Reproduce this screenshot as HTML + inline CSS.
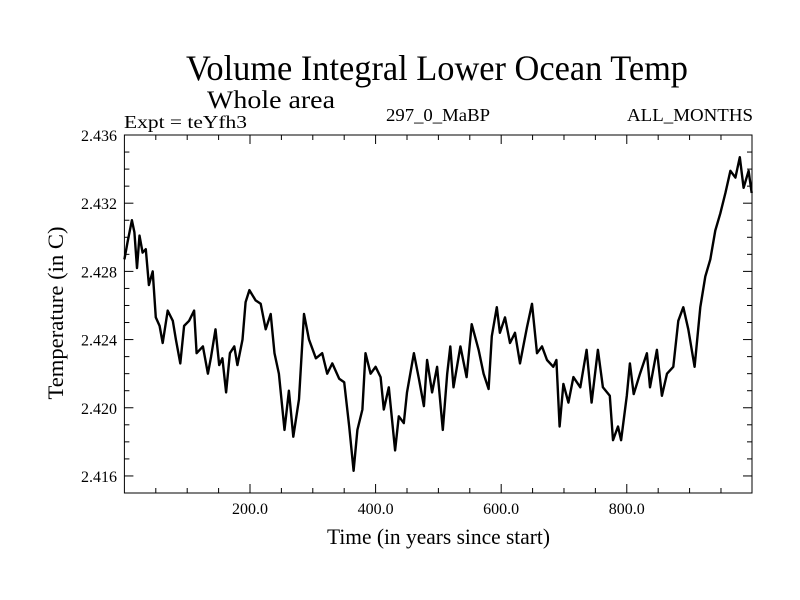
<!DOCTYPE html>
<html><head><meta charset="utf-8"><style>body{margin:0;background:#fff}svg{display:block}text{font-family:"Liberation Serif",serif;fill:#000}</style></head>
<body>
<svg id="chart" width="800" height="600">
<text x="437" y="80" font-size="36" text-anchor="middle" textLength="502" lengthAdjust="spacingAndGlyphs">Volume Integral Lower Ocean Temp</text>
<text x="207" y="108" font-size="25" textLength="128" lengthAdjust="spacingAndGlyphs">Whole area</text>
<text x="124" y="128" font-size="18" textLength="123" lengthAdjust="spacingAndGlyphs">Expt = teYfh3</text>
<text x="386" y="121" font-size="18" textLength="104" lengthAdjust="spacingAndGlyphs">297_0_MaBP</text>
<text x="753" y="121" font-size="18" text-anchor="end" textLength="126" lengthAdjust="spacingAndGlyphs">ALL_MONTHS</text>
<text x="327" y="544" font-size="22" textLength="223" lengthAdjust="spacingAndGlyphs">Time (in years since start)</text>
<text transform="translate(63,313) rotate(-90)" font-size="22" text-anchor="middle" textLength="173" lengthAdjust="spacingAndGlyphs">Temperature (in C)</text>
<g id="axes"></g>
<path id="series" fill="none" stroke="#000" stroke-width="2.4" stroke-linejoin="round"></path>
<rect x="124.4" y="135" width="627.6" height="358" fill="none" stroke="#000" stroke-width="1"></rect>
</svg>
<script>
const years=[0,5,12,16,20,24,29,34,39,45,50,56,61,69,77,82,89,95,103,111,115,125,133,138,145,151,156,162,168,175,180,188,193,199,209,217,225,233,239,246,255,262,269,278,286,294,305,315,323,331,342,350,358,365,371,379,384,392,400,408,413,421,431,437,445,450,461,469,477,482,490,498,
507,514,519,524,535,545,553,564,572,580,585,593,598,606,614,622,630,641,649,657,665,673,683,688,693,699,707,715,726,736,744,754,762,773,778,786,791,800,805,811,821,832,837,848,856,864,874,882,890,898,908,917,925,933,941,949,957,965,973,980,986,994,999];
const temps=[2.4287,2.4297,2.4310,2.4303,2.4282,2.4301,2.4291,2.4293,2.4272,2.4280,2.4253,2.4248,2.4238,2.4257,2.4251,2.4240,2.4226,2.4248,2.4251,2.4257,2.4232,2.4236,2.4220,2.4230,2.4246,2.4225,2.4229,2.4209,2.4232,2.4236,2.4225,2.4240,2.4262,2.4269,2.4263,2.4261,2.4246,2.4255,2.4232,2.4220,2.4187,2.4210,2.4183,2.4205,2.4255,2.4240,2.4229,2.4232,2.4220,2.4226,2.4217,2.4215,2.4189,2.4163,2.4187,2.4199,2.4232,2.4220,2.4224,2.4218,2.4199,2.4212,2.4175,2.4195,2.4191,2.4209,2.4232,2.4217,2.4201,2.4228,2.4209,2.4224,
2.4187,2.4220,2.4236,2.4212,2.4236,2.4218,2.4249,2.4234,2.4220,2.4211,2.4242,2.4259,2.4244,2.4253,2.4238,2.4244,2.4226,2.4247,2.4261,2.4232,2.4236,2.4228,2.4224,2.4228,2.4189,2.4214,2.4203,2.4218,2.4212,2.4234,2.4203,2.4234,2.4212,2.4207,2.4181,2.4189,2.4181,2.4207,2.4226,2.4208,2.4220,2.4232,2.4212,2.4234,2.4207,2.4220,2.4224,2.4251,2.4259,2.4246,2.4224,2.4259,2.4277,2.4287,2.4304,2.4314,2.4326,2.4339,2.4335,2.4347,2.4329,2.4339,2.4326];
const yTicks=[2.416,2.420,2.424,2.428,2.432,2.436];
const yTickLabels=["2.416","2.420","2.424","2.428","2.432","2.436"];
const xTicks=[200,400,600,800];
const xTickLabels=["200.0","400.0","600.0","800.0"];
const X0=124.4,X1=752,Y0=493,Y1=135,XMIN=0,XMAX=999.4,YMIN=2.415,YMAX=2.436;
const sx=v=>X0+(v-XMIN)/(XMAX-XMIN)*(X1-X0);
const sy=v=>Y0-(v-YMIN)/(YMAX-YMIN)*(Y0-Y1);
const NS='http://www.w3.org/2000/svg';
const ax=document.getElementById('axes');
function ln(x1,y1,x2,y2,name){const l=document.createElementNS(NS,'line');l.setAttribute('x1',x1);l.setAttribute('y1',y1);l.setAttribute('x2',x2);l.setAttribute('y2',y2);l.setAttribute('stroke','#000');l.setAttribute('stroke-width','1');


ax.appendChild(l);}
function tx(x,y,s,anchor,name){const t=document.createElementNS(NS,'text');t.setAttribute('x',x);t.setAttribute('y',y);t.setAttribute('font-size','16');t.setAttribute('text-anchor',anchor);t.textContent=s;


ax.appendChild(t);}
for(let v=50;v<1000;v+=50){const x=sx(v);const maj=v%200===0;const L=maj?9:5;ln(x,Y0,x,Y0-L,'x-tick');ln(x,Y1,x,Y1+L,'x-tick-top');}
for(let i=15;i<=36;i++){const v=i/1000;const y=sy(2.4+v);const maj=i%4===0;const L=maj?9:5;ln(X0,y,X0+L,y,'y-tick');ln(X1,y,X1-L,y,'y-tick-right');}
xTicks.forEach((v,i)=>tx(sx(v),514,xTickLabels[i],'middle','x-tick-label'));
yTicks.forEach((v,i)=>tx(117,sy(v)+6,yTickLabels[i],'end','y-tick-label'));
document.getElementById('series').setAttribute('d',years.map((y,i)=>(i?'L':'M')+sx(y).toFixed(1)+','+sy(temps[i]).toFixed(1)).join(''));
</script>
</body></html>
